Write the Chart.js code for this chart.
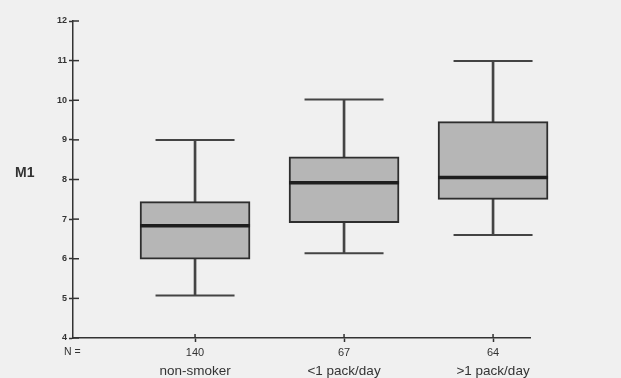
<!DOCTYPE html>
<html>
<head>
<meta charset="utf-8">
<script src="https://cdn.jsdelivr.net/npm/chart.js@4/dist/chart.umd.min.js"></script>
<style>
  html, body { margin: 0; padding: 0; background: #f0f0f0; }
  #wrap { width: 621px; height: 378px; position: relative; }
</style>
</head>
<body>
<div id="wrap"><canvas id="c" width="621" height="378"></canvas></div>
<script>
// ---- data ----
const categories = ['non-smoker', '<1 pack/day', '>1 pack/day'];
const counts = [140, 67, 64];
const whiskerLow = [5.07, 6.14, 6.60];
const q1 = [5.99, 6.91, 7.50];
const median = [6.83, 7.92, 8.05];
const q3 = [7.44, 8.57, 9.46];
const whiskerHigh = [9.0, 10.02, 10.99];
const yTicks = [4, 5, 6, 7, 8, 9, 10, 11, 12];
const yTitle = 'M1';
const nLabel = 'N =';

const xPos = categories.map((_, i) => i + 1);
const INK = '#333333';

const boxData = xPos.map((x, i) => ({ x, y: [q1[i], q3[i]] }));
const whiskerData = xPos.map((x, i) => ({ x, y: [whiskerLow[i], whiskerHigh[i]] }));
const medianData = xPos.map((x, i) => ({ x, y: median[i] }));
const capData = xPos.flatMap((x, i) => [{ x, y: whiskerLow[i] }, { x, y: whiskerHigh[i] }]);

const xMin = 0.181, xMax = 3.248;

const annot = {
  id: 'annot',
  afterDraw(chart) {
    const ctx = chart.ctx;
    const ys = chart.scales.y;
    const xs = chart.scales.x;
    ctx.save();
    ctx.fillStyle = INK;
    ctx.font = 'bold 14px "Liberation Sans", Arial, sans-serif';
    ctx.textAlign = 'left';
    ctx.textBaseline = 'middle';
    ctx.fillText(yTitle, 15, ys.getPixelForValue(8.17));
    ctx.font = '10.5px "Liberation Sans", Arial, sans-serif';
    ctx.fillText(nLabel, xs.left - 9, 352);
    // cross ticks inside axis
    ctx.strokeStyle = INK;
    ctx.lineWidth = 1.5;
    yTicks.forEach(v => {
      const y = ys.getPixelForValue(v);
      ctx.beginPath(); ctx.moveTo(xs.left, y); ctx.lineTo(xs.left + 6, y); ctx.stroke();
    });
    xPos.forEach(v => {
      const x = xs.getPixelForValue(v);
      ctx.beginPath(); ctx.moveTo(x, ys.bottom); ctx.lineTo(x, ys.bottom - 4); ctx.stroke();
    });
    ctx.restore();
  }
};

new Chart(document.getElementById('c'), {
  type: 'bar',
  data: {
    datasets: [
      {
        type: 'bar', data: whiskerData, grouped: false, barThickness: 2,
        backgroundColor: '#444444', borderWidth: 0, order: 3, clip: false
      },
      {
        type: 'bar', data: boxData, grouped: false, barThickness: 110,
        backgroundColor: '#b6b6b6', borderColor: '#2e2e2e', borderWidth: 2,
        borderSkipped: false, order: 2, clip: false
      },
      {
        type: 'scatter', data: capData, pointStyle: 'line', radius: 39.5,
        borderColor: '#444444', borderWidth: 2, order: 1, clip: false
      },
      {
        type: 'scatter', data: medianData, pointStyle: 'line', radius: 55,
        borderColor: '#1e1e1e', borderWidth: 3.5, order: 0, clip: false
      }
    ]
  },
  options: {
    responsive: false,
    animation: false,
    events: [],
    layout: { autoPadding: false, padding: { left: 0, right: 91, top: 21, bottom: 0 } },
    plugins: { legend: { display: false }, tooltip: { enabled: false } },
    scales: {
      x: {
        type: 'linear', position: 'bottom', min: xMin, max: xMax, offset: false,
        afterBuildTicks: s => { s.ticks = xPos.map(v => ({ value: v })); },
        afterFit: s => { s.height = 25; },
        grid: { display: true, offset: false, drawOnChartArea: false, drawTicks: true, tickLength: 4, tickColor: INK, tickWidth: 1.5 },
        border: { display: true, color: INK, width: 1.5 },
        ticks: {
          padding: 4, color: INK, maxRotation: 0, autoSkip: false,
          font: { family: '"Liberation Sans", Arial, sans-serif', size: 11 },
          callback: (v) => { const i = xPos.indexOf(v); return i >= 0 ? String(counts[i]) : ''; }
        }
      },
      x2: {
        type: 'linear', position: 'bottom', min: xMin, max: xMax, offset: false,
        afterBuildTicks: s => { s.ticks = xPos.map(v => ({ value: v })); },
        afterFit: s => { s.height = 15; },
        grid: { display: false, drawTicks: false, offset: false },
        border: { display: false },
        ticks: {
          padding: 0, color: INK, maxRotation: 0, autoSkip: false,
          font: { family: '"Liberation Sans", Arial, sans-serif', size: 13.5 },
          callback: (v) => { const i = xPos.indexOf(v); return i >= 0 ? categories[i] : ''; }
        }
      },
      y: {
        min: 4, max: 12,
        afterBuildTicks: s => { s.ticks = yTicks.map(v => ({ value: v })); },
        afterFit: s => { s.width = 73; },
        grid: { display: true, drawOnChartArea: false, drawTicks: true, tickLength: 4, tickColor: INK, tickWidth: 1.5 },
        border: { display: true, color: INK, width: 1.5 },
        ticks: {
          padding: 2, color: INK,
          font: { family: '"Liberation Sans", Arial, sans-serif', size: 9, weight: 'bold' }
        }
      }
    }
  },
  plugins: [annot]
});
</script>
</body>
</html>
